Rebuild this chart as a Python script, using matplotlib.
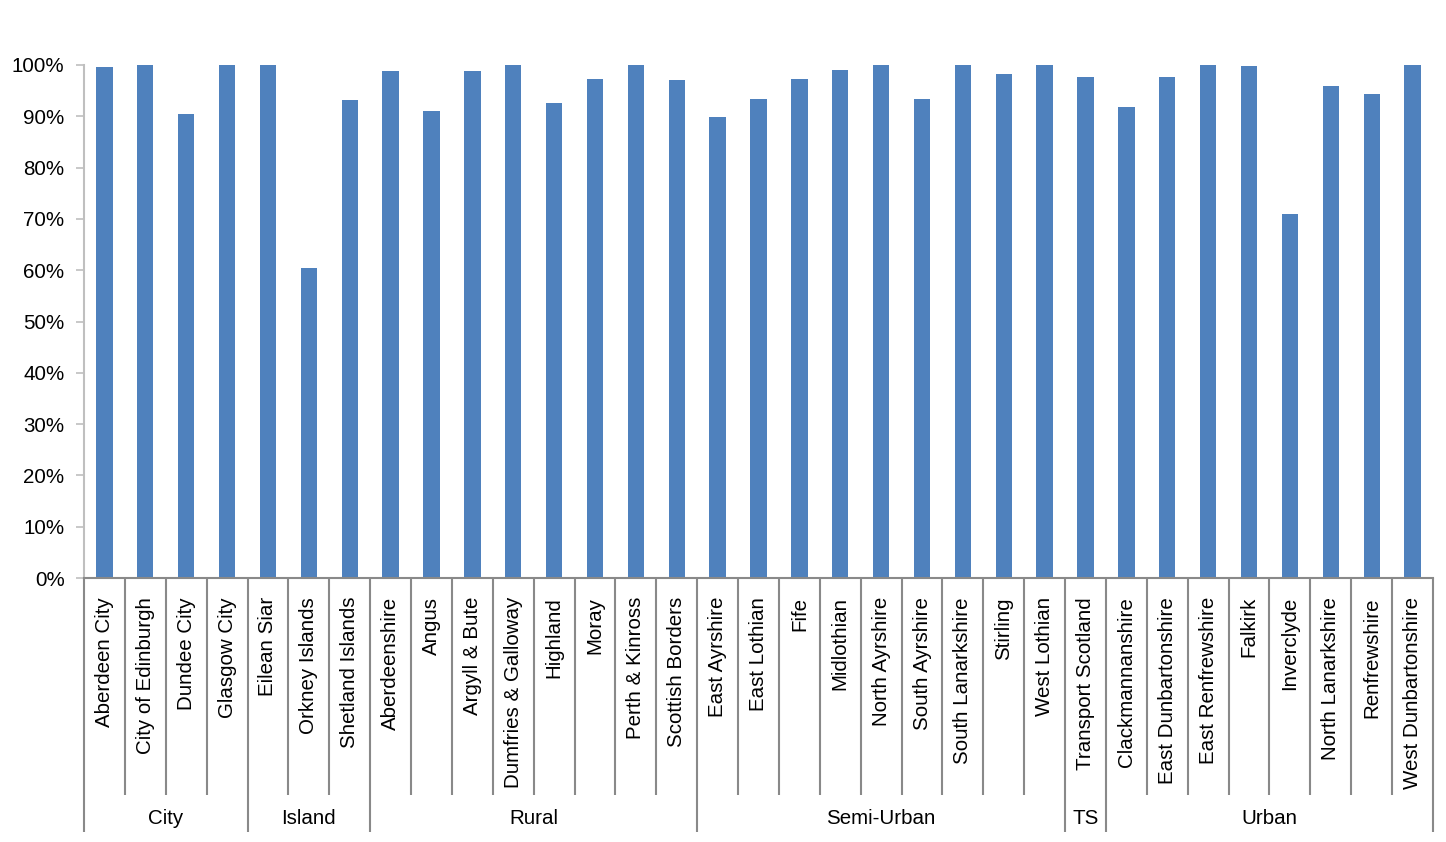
import matplotlib
matplotlib.use("Agg")
import matplotlib.pyplot as plt
from matplotlib.ticker import FuncFormatter

plt.rcParams['font.family'] = ['Liberation Sans', 'DejaVu Sans']

categories = [
    "Aberdeen City", "City of Edinburgh", "Dundee City", "Glasgow City",
    "Eilean Siar", "Orkney Islands", "Shetland Islands",
    "Aberdeenshire", "Angus", "Argyll & Bute", "Dumfries & Galloway", "Highland",
    "Moray", "Perth & Kinross", "Scottish Borders",
    "East Ayrshire", "East Lothian", "Fife", "Midlothian", "North Ayrshire",
    "South Ayrshire", "South Lanarkshire", "Stirling", "West Lothian",
    "Transport Scotland",
    "Clackmannanshire", "East Dunbartonshire", "East Renfrewshire", "Falkirk",
    "Inverclyde", "North Lanarkshire", "Renfrewshire", "West Dunbartonshire",
]
values = [
    0.996, 1.000, 0.904, 1.000,
    1.000, 0.604, 0.932,
    0.988, 0.910, 0.988, 1.000, 0.926, 0.973, 1.000, 0.971,
    0.899, 0.934, 0.973, 0.990, 1.000, 0.934, 1.000, 0.982, 1.000,
    0.977,
    0.918, 0.977, 1.000, 0.998, 0.710, 0.959, 0.943, 1.000,
]
groups = ["City", "Island", "Rural", "Semi-Urban", "TS", "Urban"]
group_sizes = [4, 3, 8, 9, 1, 8]
yticks = [0, 0.1, 0.2, 0.3, 0.4, 0.5, 0.6, 0.7, 0.8, 0.9, 1.0]

FS = 14.8
W, H = 1446, 842
fig = plt.figure(figsize=(W / 100, H / 100), dpi=100)
left, right, top, bottom = 84, 1433, 65, 578
ax = fig.add_axes([left / W, 1 - bottom / H, (right - left) / W, (bottom - top) / H])

x = list(range(len(categories)))
ax.bar(x, values, width=0.4, color="#4F81BD", zorder=2)

ax.set_xlim(-0.5, len(categories) - 0.5)
ax.set_ylim(0, 1.0)
ax.set_yticks(yticks)
ax.yaxis.set_major_formatter(FuncFormatter(lambda v, p: f"{v*100:.0f}%"))
ax.tick_params(axis='y', length=6, width=1.2, color="#BFBFBF", labelsize=FS, pad=8,
               labelcolor="#000000")
ax.set_xticks([])

for s in ["top", "right"]:
    ax.spines[s].set_visible(False)
ax.spines["left"].set_color("#BFBFBF")
ax.spines["left"].set_linewidth(1.5)
ax.spines["bottom"].set_color("#898989")
ax.spines["bottom"].set_linewidth(1.5)

tr = ax.get_xaxis_transform()
px = 1.0 / (bottom - top)
y_inner = -(795 - bottom) * px
y_outer = -(832 - bottom) * px
y_label = -(597 - bottom) * px
y_group = -(819 - bottom) * px

# category labels
for xi, name in zip(x, categories):
    ax.text(xi, y_label, name, transform=tr, rotation=90, ha="center", va="top",
            fontsize=FS, color="#000000")

# separators
boundaries = set()
pos = 0
boundaries.add(-0.5)
for sz in group_sizes:
    pos += sz
    boundaries.add(pos - 0.5)
for i in range(len(categories) + 1):
    b = i - 0.5
    yend = y_outer if b in boundaries else y_inner
    ax.plot([b, b], [0, yend], transform=tr, color="#898989", lw=1.5,
            clip_on=False, solid_capstyle="butt")

# group labels
start = 0
for g, sz in zip(groups, group_sizes):
    center = start + (sz - 1) / 2
    ax.text(center, y_group, g, transform=tr, ha="center", va="center",
            fontsize=FS, color="#000000")
    start += sz

fig.savefig("out.png", dpi=100)
